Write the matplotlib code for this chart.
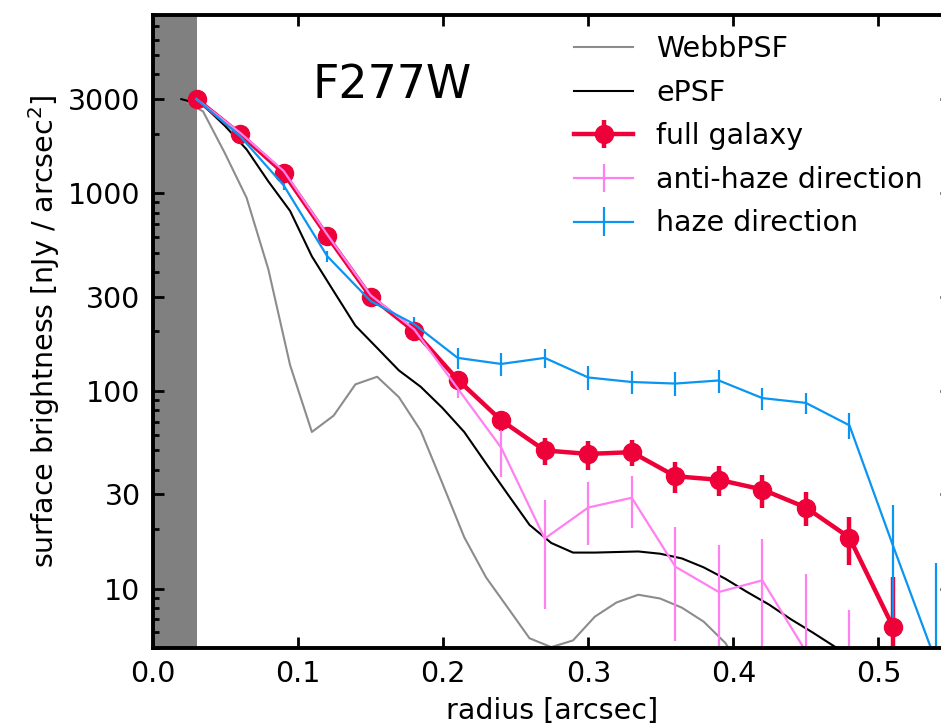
import matplotlib.pyplot as plt
import numpy as np

# radial profile sampling
radius = [0.03, 0.06, 0.09, 0.12, 0.15, 0.18, 0.21, 0.24, 0.27, 0.30,
          0.33, 0.36, 0.39, 0.42, 0.45, 0.48, 0.51, 0.54]

full_galaxy = [3000, 2000, 1270, 610, 300, 201, 114, 71, 50, 48,
               49, 37, 35.5, 31.7, 25.7, 18.1, 6.4]
full_galaxy_err = [60, 50, 40, 25, 15, 10, 8, 8, 8, 8,
                   7.5, 6.5, 6, 6, 5, 5, 5]

anti_haze = [3000, 2030, 1300, 620, 305, 205, 103, 51.6, 17.9, 25.7,
             28.8, 12.9, 9.6, 11.0, 4.8, 1.5, 1.0]
anti_haze_err = [40, 60, 50, 30, 20, 15, 11, 15, 10, 9,
                 8.5, 7.5, 7, 6.8, 7, 6.3, 2]

haze = [3000, 1950, 1100, 482, 285, 218, 147, 137, 147, 117,
        111, 109, 113, 92, 87, 67, 16.5, 4.2]
haze_err = [60, 60, 55, 30, 20, 18, 18, 18, 16, 16,
            15, 15, 15, 12, 11, 10, 10, 9.2]

# PSF profiles on a finer grid
radius_psf = [0.0195, 0.0345, 0.0495, 0.0645, 0.0795, 0.0945, 0.1095, 0.1245,
              0.1395, 0.1545, 0.1695, 0.1845, 0.1995, 0.2145, 0.2295, 0.2445,
              0.2595, 0.2745, 0.2895, 0.3045, 0.3195, 0.3345, 0.3495, 0.3645,
              0.3795, 0.3945, 0.4095, 0.4245, 0.4395, 0.4545, 0.4695, 0.4845]
epsf = [3000, 2800, 2200, 1670, 1150, 815, 480, 320,
        214, 165, 127, 105, 82, 62, 43, 30,
        21, 17, 15.2, 15.2, 15.3, 15.4, 15.0, 14.2,
        12.8, 11.2, 9.6, 8.3, 7.0, 6.0, 5.1, 4.4]
webbpsf = [3000, 2600, 1600, 950, 413, 135, 62, 75,
           108, 118, 93, 63, 34, 18.2, 11.4, 8.0,
           5.6, 5.05, 5.46, 7.2, 8.5, 9.3, 8.9, 8.0,
           6.8, 5.3, 3.5, 3.0, 2.8, 2.6, 2.5, 2.4]

yticks = [10, 30, 100, 300, 1000, 3000]
fs = 20.5

fig = plt.figure(figsize=(9.41, 7.24), dpi=100)
ax = fig.add_axes([0.1626, 0.105, 0.848, 0.8743])

ax.axvspan(0, 0.03, color='#808080', lw=0, zorder=0)

ax.plot(radius_psf, webbpsf, color='#8c8c8c', lw=1.5, label='WebbPSF')
ax.plot(radius_psf, epsf, color='black', lw=1.5, label='ePSF')
ax.errorbar(radius[:len(full_galaxy)], full_galaxy, yerr=full_galaxy_err,
            fmt='o-', color='#ee0038', ms=13, lw=3.2, elinewidth=3.2,
            label='full galaxy')
ax.errorbar(radius[:len(anti_haze)], anti_haze, yerr=anti_haze_err,
            fmt='-', color='#ff80f0', lw=1.6, elinewidth=1.6,
            label='anti-haze direction')
ax.errorbar(radius, haze, yerr=haze_err, fmt='-', color='#0b95f2',
            lw=1.6, elinewidth=1.6, label='haze direction')

ax.set_yscale('log')
ax.set_xlim(0, 0.55)
ax.set_ylim(5, 8000)
ax.set_yticks(yticks)
ax.set_yticklabels([str(t) for t in yticks])
ax.set_xticks([0.0, 0.1, 0.2, 0.3, 0.4, 0.5])
ax.tick_params(which='both', direction='in', top=True, right=True,
               labelsize=fs, width=2)
ax.tick_params(which='major', length=8, pad=9)
ax.tick_params(which='minor', length=4.5)
for sp in ax.spines.values():
    sp.set_linewidth(2.8)

ax.set_xlabel('radius [arcsec]', fontsize=fs, labelpad=6)
ax.set_ylabel('surface brightness [nJy / arcsec$^2$]', fontsize=fs)
ax.text(0.11, 3050, 'F277W', fontsize=33)

ax.legend(loc='upper right', bbox_to_anchor=(0.979, 0.9866), borderaxespad=0,
          frameon=False, fontsize=fs, handlelength=2.1, labelspacing=0.55)

fig.savefig('out.png', dpi=100)
